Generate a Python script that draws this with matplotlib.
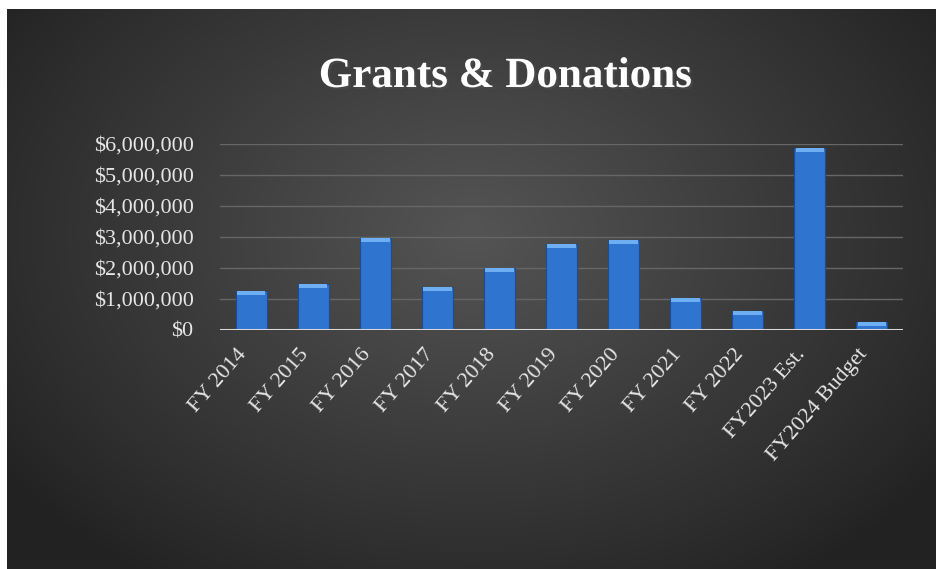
import numpy as np
import matplotlib.pyplot as plt
import matplotlib.patheffects as pe
from matplotlib.colors import LinearSegmentedColormap
from matplotlib.ticker import FuncFormatter

categories = ["FY 2014", "FY 2015", "FY 2016", "FY 2017", "FY 2018", "FY 2019",
              "FY 2020", "FY 2021", "FY 2022", "FY2023 Est.", "FY2024 Budget"]
amounts = [1250000, 1480000, 2970000, 1390000, 2000000, 2770000,
           2900000, 1030000, 600000, 5870000, 260000]
y_ticks = [0, 1000000, 2000000, 3000000, 4000000, 5000000, 6000000]

serif = "Liberation Serif"
W, H = 937, 569

fig = plt.figure(figsize=(W / 100, H / 100), dpi=100, facecolor="white")

# dark radial background (white strip top/left like the source image)
bg = fig.add_axes([7 / W, 0, 930 / W, 560 / H])
yy, xx = np.mgrid[0:1:300j, 0:1:500j]
r = np.sqrt(((xx - 0.5) / 0.62) ** 2 + ((yy - 0.4) / 0.75) ** 2)
shade = np.clip(1 - r, 0, 1) ** 0.9
cmap = LinearSegmentedColormap.from_list("bg", ["#222222", "#3a3a3a", "#545454"])
bg.imshow(shade, cmap=cmap, aspect="auto", extent=(0, 1, 0, 1), interpolation="bilinear")
bg.set_axis_off()

ax = fig.add_axes([220 / W, (H - 330) / H, 683 / W, 186 / H])
ax.patch.set_alpha(0)

x = np.arange(len(categories))
ax.bar(x, amounts, width=0.5, color="#2f74cf", edgecolor="#1c4d92", linewidth=0.8, zorder=3)
# lighter cap on top of each bar
cap = 120000
ax.bar(x, [cap] * len(amounts), bottom=[a - cap for a in amounts], width=0.46,
       color="#6eaef2", linewidth=0, zorder=4)

ax.set_xlim(-0.5, len(categories) - 0.5)
ax.set_ylim(0, 6000000)
ax.set_yticks(y_ticks)
ax.yaxis.set_major_formatter(FuncFormatter(lambda v, p: "${:,.0f}".format(v)))
ax.grid(axis="y", color="#666666", linewidth=1, zorder=0)
ax.axhline(0, color="#d9d9d9", linewidth=2.2, zorder=5)
for s in ax.spines.values():
    s.set_visible(False)

ax.set_xticks(x)
ax.set_xticklabels(categories, rotation=49, ha="right", va="top")
ax.tick_params(axis="y", length=0, pad=19, labelsize=16, labelcolor="#e6e6e6")
ax.tick_params(axis="x", length=0, pad=11, labelsize=16, labelcolor="#e6e6e6")
for lbl in ax.get_xticklabels() + ax.get_yticklabels():
    lbl.set_fontfamily(serif)

fig.text(505 / W, 1 - 77 / H, "Grants & Donations", ha="center", va="center",
         fontsize=31, fontweight="bold", family=serif, color="white",
         path_effects=[pe.withSimplePatchShadow(offset=(1.5, -1.5), alpha=0.6)])

fig.savefig("out.png", dpi=100)
